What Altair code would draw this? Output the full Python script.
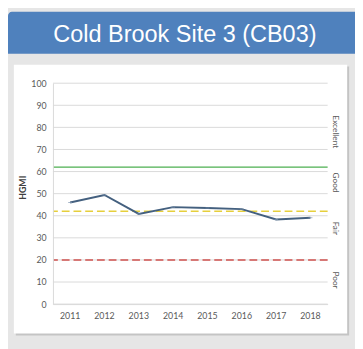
import altair as alt
import pandas as pd

# ---- data ----
years = ["2011", "2012", "2013", "2014", "2015", "2016", "2017", "2018"]
hgmi = [46.0, 49.4, 40.8, 43.9, 43.5, 43.0, 38.3, 39.1]
y_ticks = [0, 10, 20, 30, 40, 50, 60, 70, 80, 90, 100]
threshold_values = [62, 42, 20]
threshold_colors = ["#4caf50", "#e6cf3c", "#d0524f"]
class_labels = ["Excellent", "Good", "Fair", "Poor"]
class_positions = [78, 55, 34.3, 10.9]
title_text = "Cold Brook Site 3 (CB03)"
y_title = "HGMI"

W, H = 281, 226
FONT = "Lato"
LABEL_COLOR = "#595959"

df = pd.DataFrame({"year": years, "hgmi": hgmi})
one = pd.DataFrame({"k": [0]})

yscale = alt.Scale(domain=[0, 100], nice=False, zero=True)
xscale = alt.Scale(domain=years, paddingInner=0, paddingOuter=0)
yaxis = alt.Axis(values=y_ticks, tickCount=11, title=None, ticks=False, grid=False,
                 labelOverlap=False, domainColor="#d9d9d9", labelFont=FONT,
                 labelFontSize=9, labelColor=LABEL_COLOR, labelPadding=7, zindex=1)
xaxis = alt.Axis(title=None, labelAngle=0, ticks=False, grid=False,
                 labelOverlap=False, domainColor="#d9d9d9", labelFont=FONT,
                 labelFontSize=9, labelColor=LABEL_COLOR, labelPadding=8, zindex=1)

# decorations (card)
header = alt.Chart(one).mark_rect(color="#4f81bd", cornerRadiusTopLeft=4).encode(
    x=alt.value(-46), x2=alt.value(309), y=alt.value(-73), y2=alt.value(-30))
shadow = alt.Chart(one).mark_rect(color="#c4c4c4").encode(
    x=alt.value(-38), x2=alt.value(303), y=alt.value(-17), y2=alt.value(258))
panel = alt.Chart(one).mark_rect(color="#ffffff").encode(
    x=alt.value(-40), x2=alt.value(301), y=alt.value(-19), y2=alt.value(256))
title = alt.Chart(one).mark_text(
    text=title_text, font="Liberation Sans", fontSize=24, color="white",
    align="center", baseline="middle").encode(x=alt.value(135), y=alt.value(-49))
ytitle = alt.Chart(one).mark_text(
    text=y_title, font=FONT, fontSize=9, fontWeight="bold", color="#404040",
    angle=270, align="center", baseline="middle").encode(x=alt.value(-31), y=alt.value(107))

grid = alt.Chart(pd.DataFrame({"v": y_ticks})).mark_rule(
    color="#d9d9d9", strokeWidth=1).encode(
    y=alt.Y("v:Q", scale=yscale, axis=yaxis))

thr = pd.DataFrame({"v": threshold_values, "c": threshold_colors})
green = alt.Chart(thr.iloc[[0]]).mark_rule(color=threshold_colors[0], strokeWidth=1.5).encode(
    y=alt.Y("v:Q", scale=yscale, axis=yaxis))
dashed = alt.Chart(thr.iloc[1:]).mark_rule(strokeWidth=1.5, strokeDash=[8, 4]).encode(
    y=alt.Y("v:Q", scale=yscale, axis=yaxis),
    color=alt.Color("c:N", scale=None, legend=None))

line = alt.Chart(df).mark_line(color="#44607f", strokeWidth=2).encode(
    x=alt.X("year:O", scale=xscale, axis=xaxis),
    y=alt.Y("hgmi:Q", scale=yscale, axis=yaxis))
marks = alt.Chart(df).mark_tick(color="#7f95b0", size=4, thickness=1).encode(
    x=alt.X("year:O", scale=xscale, axis=xaxis),
    y=alt.Y("hgmi:Q", scale=yscale, axis=yaxis))

classes = alt.Chart(pd.DataFrame({"lab": class_labels, "v": class_positions})).mark_text(
    font=FONT, fontSize=8.5, color=LABEL_COLOR, angle=90,
    align="center", baseline="middle").encode(
    x=alt.value(289), y=alt.Y("v:Q", scale=yscale, axis=yaxis), text="lab:N")

chart = alt.layer(header, shadow, panel, title, ytitle, grid, green, dashed,
                  line, marks, classes).properties(
    width=W, height=H,
    autosize=alt.AutoSizeParams(type="none"),
    padding={"left": 46, "top": 73, "right": 28, "bottom": 42},
    background="#e6e6e6",
).configure_view(stroke=None)

chart.save("out.html", embed_options={"renderer": "svg", "actions": False})
